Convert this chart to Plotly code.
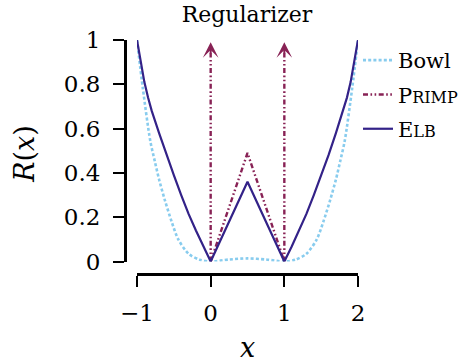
import plotly.graph_objects as go

# ---------------- data ----------------
x_ticks = [-1, 0, 1, 2]
x_ticklabels = ["\u22121", "0", "1", "2"]
y_ticks = [0, 0.2, 0.4, 0.6, 0.8, 1.0]
y_ticklabels = ["0", "0.2", "0.4", "0.6", "0.8", "1"]

bowl_x = [-1.0, -0.92, -0.82, -0.76, -0.70, -0.62, -0.53, -0.44, -0.30, -0.15, 0.0,
          0.25, 0.5, 0.75, 1.0, 1.15, 1.30, 1.44, 1.53, 1.62, 1.70, 1.76, 1.82, 1.92, 2.0]
bowl_y = [1.0, 0.78, 0.545, 0.455, 0.37, 0.275, 0.18, 0.10, 0.035, 0.008, 0.0,
          0.009, 0.014, 0.009, 0.0, 0.008, 0.035, 0.10, 0.18, 0.275, 0.37, 0.455, 0.545, 0.78, 1.0]

elb_x = [-1.0, -0.95, -0.9, -0.85, -0.8, -0.7, -0.6, -0.5, -0.4, -0.3, -0.2, -0.1, 0.0,
         0.5,
         1.0, 1.1, 1.2, 1.3, 1.4, 1.5, 1.6, 1.7, 1.8, 1.85, 1.9, 1.95, 2.0]
elb_y = [1.0, 0.90, 0.81, 0.74, 0.68, 0.58, 0.48, 0.39, 0.30, 0.215, 0.14, 0.068, 0.0,
         0.36,
         0.0, 0.068, 0.14, 0.215, 0.30, 0.39, 0.48, 0.58, 0.68, 0.74, 0.81, 0.90, 1.0]

primp_x = [0.0, 0.5, 1.0]
primp_y = [0.0, 0.49, 0.0]
primp_wall_x = [0.0, 1.0]          # R = +inf outside [0, 1]
primp_wall_top = 0.99

# ---------------- style ----------------
C_BOWL = "#88CCEE"
C_PRIMP = "#882255"
C_ELB = "#332288"
FONT = "DejaVu Serif"
PRIMP_DASH = "5px,2.5px,1.6px,2.5px,1.6px,2.5px"

fig = go.Figure()

fig.add_trace(go.Scatter(x=bowl_x, y=bowl_y, mode="lines", name="Bowl",
                         line=dict(color=C_BOWL, width=2.6, dash="3px,2.2px",
                                   shape="spline", smoothing=0.8),
                         legendgroup="a"))
fig.add_trace(go.Scatter(x=primp_x, y=primp_y, mode="lines",
                         name="P<span style='font-size:16px'>RIMP</span>",
                         line=dict(color=C_PRIMP, width=2.4, dash=PRIMP_DASH),
                         legendgroup="b"))
for wx in primp_wall_x:
    fig.add_trace(go.Scatter(x=[wx, wx], y=[0, primp_wall_top - 0.05], mode="lines",
                             showlegend=False, hoverinfo="skip",
                             line=dict(color=C_PRIMP, width=2.4, dash=PRIMP_DASH)))
    fig.add_annotation(x=wx, y=primp_wall_top, ax=wx, ay=primp_wall_top - 0.06,
                       xref="x", yref="y", axref="x", ayref="y", text="",
                       showarrow=True, arrowhead=3, arrowsize=1.3, arrowwidth=2,
                       arrowcolor=C_PRIMP)
fig.add_trace(go.Scatter(x=elb_x, y=elb_y, mode="lines",
                         name="E<span style='font-size:16px'>LB</span>",
                         line=dict(color=C_ELB, width=2.2),
                         legendgroup="c"))

axis_common = dict(showgrid=False, zeroline=False, showline=True, linecolor="black",
                   linewidth=3, ticks="outside", ticklen=11, tickwidth=1.5,
                   tickcolor="black", anchor="free", position=0,
                   tickfont=dict(family=FONT, size=23, color="black"))

fig.update_layout(
    width=466, height=364,
    margin=dict(l=125, r=108, t=40, b=90, autoexpand=False),
    paper_bgcolor="white", plot_bgcolor="white",
    hovermode=False,
    xaxis=dict(range=[-1, 2], domain=[0.0515, 1], tickvals=x_ticks,
               ticktext=x_ticklabels, ticklabelstandoff=6, **axis_common),
    yaxis=dict(range=[0, 1], domain=[0.0534, 1], tickvals=y_ticks,
               ticktext=y_ticklabels, ticklabelstandoff=8, **axis_common),
    title=dict(text="Regularizer", x=0.53, xanchor="center", y=0.962,
               yanchor="middle", font=dict(family=FONT, size=22, color="black")),
    showlegend=True,
    legend=dict(x=1.0, xanchor="left", y=1.0, yanchor="top",
                font=dict(family=FONT, size=21, color="black"),
                bgcolor="rgba(0,0,0,0)", tracegroupgap=4, traceorder="grouped"),
)

fig.add_annotation(text="<i>R</i>(<i>x</i>)", xref="paper", yref="paper",
                   x=-0.43, y=0.513, xanchor="center", yanchor="middle",
                   textangle=-90, showarrow=False,
                   font=dict(family=FONT, size=27, color="black"))
fig.add_annotation(text="<i>x</i>", xref="paper", yref="paper",
                   x=0.525, y=-0.316, xanchor="center", yanchor="middle",
                   showarrow=False,
                   font=dict(family=FONT, size=27, color="black"))

fig.write_html("out.html", config={"displayModeBar": False},
               post_script="document.body.style.margin='0';")
